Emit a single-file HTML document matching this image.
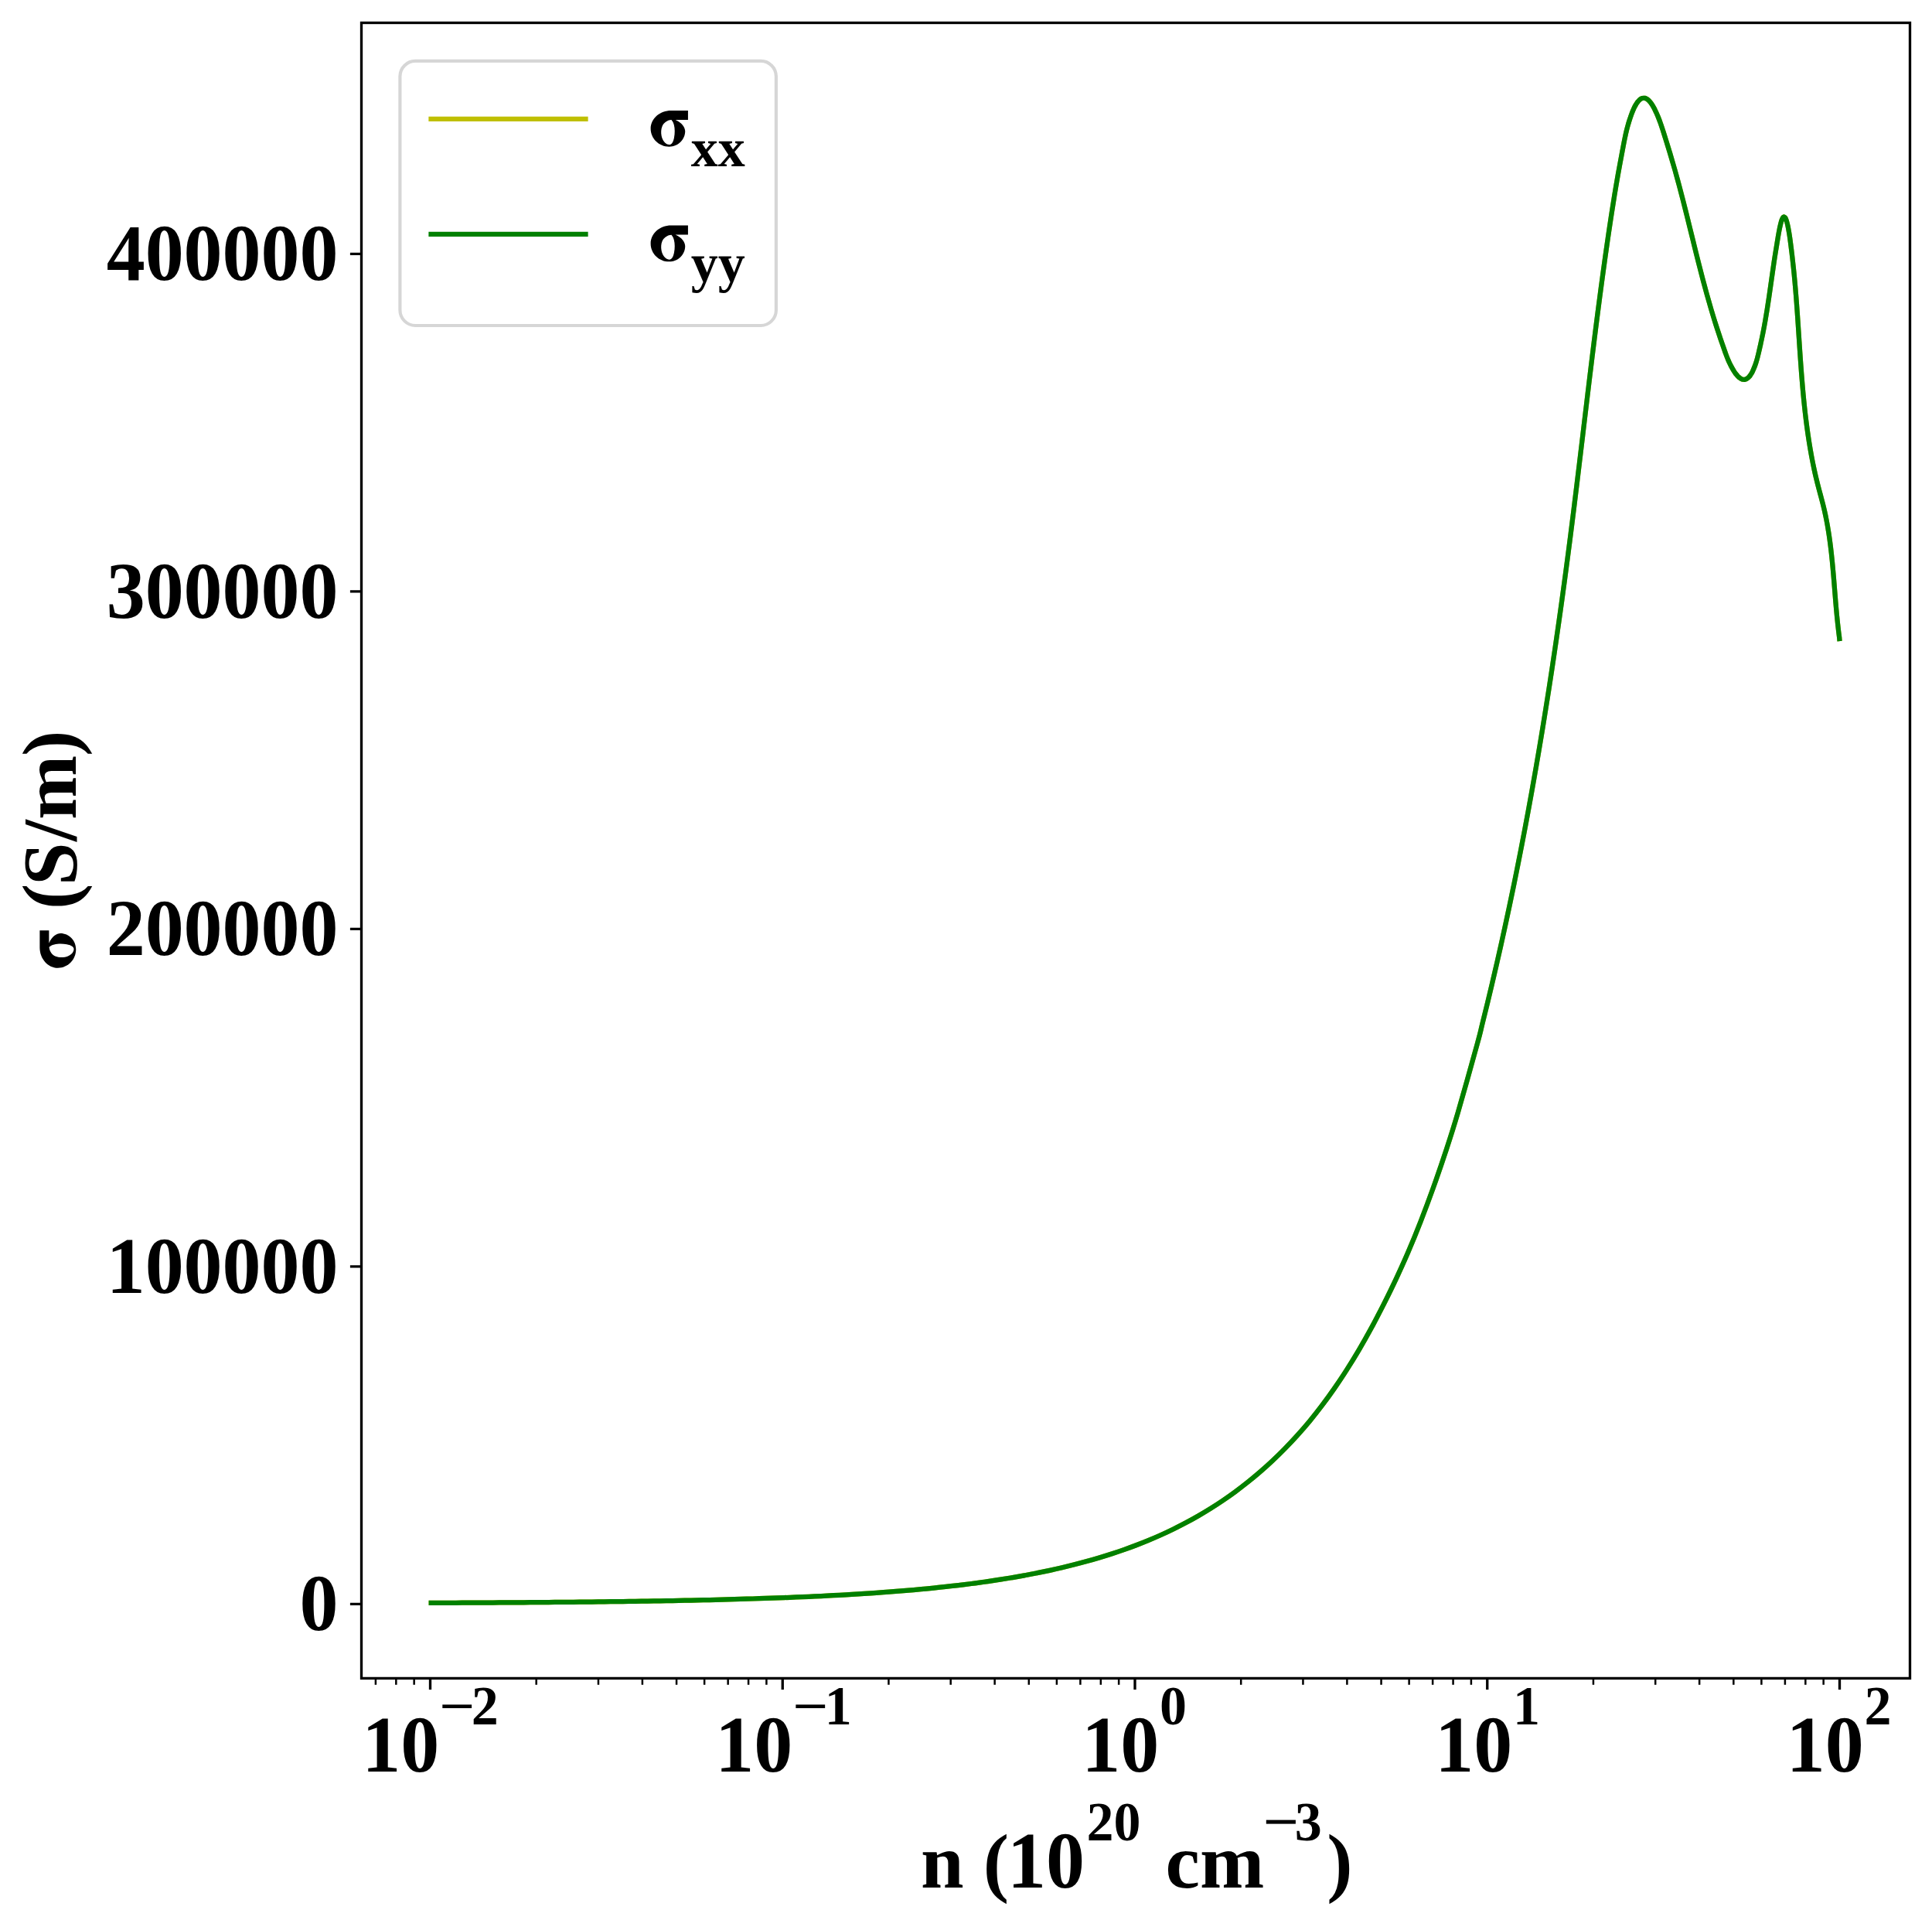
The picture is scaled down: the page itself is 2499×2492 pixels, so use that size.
<!DOCTYPE html>
<html><head><meta charset="utf-8"><title>Conductivity vs carrier concentration</title>
<style>html,body{margin:0;padding:0;background:#fff;width:2499px;height:2492px;overflow:hidden}
text{fill:#000}</style></head>
<body>
<svg width="2499" height="2492" viewBox="0 0 2499 2492" style="position:absolute;left:0;top:0">
<rect x="0" y="0" width="2499" height="2492" fill="#fff"/>
<defs><path id="cv" d="M557.70 2072.91C560.37 2072.90 568.37 2072.86 573.70 2072.84C579.03 2072.82 584.37 2072.80 589.70 2072.77C595.03 2072.75 600.37 2072.73 605.70 2072.70C611.03 2072.67 616.37 2072.65 621.70 2072.62C627.03 2072.59 632.37 2072.56 637.70 2072.53C643.03 2072.50 648.37 2072.47 653.70 2072.44C659.03 2072.40 664.37 2072.37 669.70 2072.33C675.03 2072.30 680.37 2072.26 685.70 2072.22C691.03 2072.18 696.37 2072.14 701.70 2072.10C707.03 2072.06 712.37 2072.02 717.70 2071.97C723.03 2071.92 728.37 2071.88 733.70 2071.83C739.03 2071.78 744.37 2071.73 749.70 2071.67C755.03 2071.62 760.37 2071.56 765.70 2071.51C771.03 2071.45 776.37 2071.39 781.70 2071.33C787.03 2071.26 792.37 2071.20 797.70 2071.13C803.03 2071.06 808.37 2070.99 813.70 2070.92C819.03 2070.84 824.37 2070.77 829.70 2070.68C835.03 2070.60 840.37 2070.52 845.70 2070.43C851.03 2070.35 856.37 2070.26 861.70 2070.16C867.03 2070.07 872.37 2069.97 877.70 2069.87C883.03 2069.77 888.37 2069.66 893.70 2069.55C899.03 2069.44 904.37 2069.32 909.70 2069.20C915.03 2069.08 920.37 2068.96 925.70 2068.83C931.03 2068.70 936.37 2068.56 941.70 2068.42C947.03 2068.28 952.37 2068.13 957.70 2067.98C963.03 2067.83 968.37 2067.67 973.70 2067.50C979.03 2067.34 984.37 2067.17 989.70 2066.99C995.03 2066.81 1000.37 2066.62 1005.70 2066.42C1011.03 2066.23 1016.37 2066.03 1021.70 2065.82C1027.03 2065.60 1032.37 2065.38 1037.70 2065.15C1043.03 2064.93 1048.37 2064.69 1053.70 2064.44C1059.03 2064.19 1064.37 2063.93 1069.70 2063.66C1075.03 2063.39 1080.37 2063.11 1085.70 2062.82C1091.03 2062.53 1096.37 2062.23 1101.70 2061.91C1107.03 2061.59 1112.37 2061.26 1117.70 2060.92C1123.03 2060.58 1128.37 2060.22 1133.70 2059.85C1139.03 2059.47 1144.37 2059.09 1149.70 2058.68C1155.03 2058.28 1160.37 2057.86 1165.70 2057.42C1171.03 2056.99 1176.37 2056.53 1181.70 2056.06C1187.03 2055.58 1192.37 2055.09 1197.70 2054.57C1203.03 2054.06 1208.37 2053.53 1213.70 2052.97C1219.03 2052.41 1224.37 2051.83 1229.70 2051.23C1235.03 2050.62 1240.37 2049.99 1245.70 2049.34C1251.03 2048.68 1256.37 2048.00 1261.70 2047.29C1267.03 2046.58 1272.37 2045.84 1277.70 2045.07C1283.03 2044.30 1288.37 2043.50 1293.70 2042.66C1299.03 2041.83 1304.37 2040.96 1309.70 2040.05C1315.03 2039.15 1320.37 2038.21 1325.70 2037.22C1331.03 2036.24 1336.37 2035.22 1341.70 2034.16C1347.03 2033.09 1352.37 2031.99 1357.70 2030.83C1363.03 2029.68 1368.37 2028.48 1373.70 2027.22C1379.03 2025.97 1384.37 2024.67 1389.70 2023.32C1395.03 2021.96 1400.37 2020.55 1405.70 2019.08C1411.03 2017.60 1416.37 2016.08 1421.70 2014.48C1427.03 2012.88 1432.37 2011.23 1437.70 2009.50C1443.03 2007.77 1448.37 2005.97 1453.70 2004.10C1459.03 2002.22 1464.37 2000.27 1469.70 1998.24C1475.03 1996.21 1480.37 1994.10 1485.70 1991.89C1491.03 1989.69 1496.37 1987.41 1501.70 1985.01C1507.03 1982.61 1512.37 1980.11 1517.70 1977.50C1523.03 1974.88 1528.37 1972.17 1533.70 1969.34C1539.03 1966.50 1544.37 1963.57 1549.70 1960.49C1555.03 1957.42 1560.37 1954.23 1565.70 1950.89C1571.03 1947.56 1576.37 1944.10 1581.70 1940.48C1587.03 1936.86 1592.37 1933.11 1597.70 1929.18C1603.03 1925.26 1608.37 1921.19 1613.70 1916.93C1619.03 1912.67 1624.37 1908.25 1629.70 1903.64C1635.03 1899.02 1640.37 1894.23 1645.70 1889.22C1651.03 1884.20 1656.37 1879.01 1661.70 1873.57C1667.03 1868.14 1672.37 1862.50 1677.70 1856.60C1683.03 1850.70 1688.37 1844.63 1693.70 1838.19C1699.03 1831.75 1704.37 1825.01 1709.70 1817.96C1715.03 1810.91 1720.37 1803.56 1725.70 1795.88C1731.03 1788.20 1736.37 1780.23 1741.70 1771.89C1747.03 1763.55 1752.37 1754.90 1757.70 1745.84C1763.03 1736.78 1768.37 1727.35 1773.70 1717.53C1779.03 1707.71 1784.37 1697.46 1789.70 1686.90C1795.03 1676.33 1800.37 1665.51 1805.70 1654.12C1811.03 1642.73 1816.37 1631.04 1821.70 1618.57C1827.03 1606.09 1832.37 1592.94 1837.70 1579.27C1843.03 1565.60 1848.37 1551.41 1853.70 1536.54C1859.03 1521.66 1864.37 1506.27 1869.70 1490.03C1875.03 1473.79 1878.85 1462.42 1885.70 1439.09C1892.55 1415.75 1905.56 1369.01 1910.79 1350.00C1916.03 1330.99 1915.05 1333.33 1917.13 1325.00C1919.22 1316.67 1921.27 1308.33 1923.30 1300.00C1925.33 1291.67 1927.33 1283.33 1929.30 1275.00C1931.28 1266.67 1933.22 1258.33 1935.14 1250.00C1937.06 1241.67 1938.96 1233.33 1940.83 1225.00C1942.69 1216.67 1944.54 1208.33 1946.35 1200.00C1948.17 1191.67 1949.96 1183.33 1951.73 1175.00C1953.50 1166.67 1955.24 1158.33 1956.96 1150.00C1958.68 1141.67 1960.38 1133.33 1962.05 1125.00C1963.72 1116.67 1965.37 1108.33 1967.00 1100.00C1968.63 1091.67 1970.23 1083.33 1971.82 1075.00C1973.40 1066.67 1974.96 1058.33 1976.50 1050.00C1978.04 1041.67 1979.56 1033.33 1981.05 1025.00C1982.55 1016.67 1984.03 1008.33 1985.49 1000.00C1986.94 991.67 1988.38 983.33 1989.80 975.00C1991.22 966.67 1992.62 958.33 1994.00 950.00C1995.38 941.67 1996.74 933.33 1998.08 925.00C1999.43 916.67 2000.75 908.33 2002.06 900.00C2003.37 891.67 2004.66 883.33 2005.93 875.00C2007.21 866.67 2008.46 858.33 2009.70 850.00C2010.95 841.67 2012.17 833.33 2013.38 825.00C2014.59 816.67 2015.78 808.33 2016.96 800.00C2018.14 791.67 2019.31 783.33 2020.46 775.00C2021.61 766.67 2022.74 758.33 2023.87 750.00C2024.99 741.67 2026.10 733.33 2027.19 725.00C2028.29 716.67 2029.37 708.33 2030.45 700.00C2031.52 691.67 2032.58 683.33 2033.62 675.00C2034.67 666.67 2035.71 658.33 2036.74 650.00C2037.76 641.67 2038.78 633.33 2039.79 625.00C2040.81 616.67 2041.81 608.33 2042.81 600.00C2043.82 591.67 2044.81 583.33 2045.81 575.00C2046.81 566.67 2047.80 558.33 2048.79 550.00C2049.79 541.67 2050.78 533.33 2051.78 525.00C2052.77 516.67 2053.77 508.33 2054.78 500.00C2055.78 491.67 2056.79 483.33 2057.81 475.00C2058.82 466.67 2059.85 458.33 2060.88 450.00C2061.91 441.67 2062.95 433.33 2064.01 425.00C2065.06 416.67 2066.13 408.33 2067.21 400.00C2068.29 391.67 2069.38 383.33 2070.49 375.00C2071.60 366.67 2072.72 358.33 2073.87 350.00C2075.01 341.67 2076.17 333.33 2077.36 325.00C2078.54 316.67 2079.74 308.33 2080.97 300.00C2082.20 291.67 2083.45 283.33 2084.74 275.00C2086.03 266.67 2087.35 258.33 2088.72 250.00C2090.09 241.67 2091.44 233.67 2092.98 225.00C2094.52 216.33 2097.01 203.17 2097.97 198.00C2098.93 192.83 2098.48 195.33 2098.73 194.00C2098.98 192.67 2099.23 191.33 2099.48 190.00C2099.73 188.67 2099.98 187.33 2100.24 186.00C2100.50 184.67 2100.76 183.33 2101.02 182.00C2101.29 180.67 2101.56 179.33 2101.83 178.00C2102.11 176.67 2102.40 175.33 2102.69 174.00C2102.99 172.67 2103.29 171.33 2103.61 170.00C2103.93 168.67 2104.26 167.33 2104.61 166.00C2104.95 164.67 2105.31 163.33 2105.69 162.00C2106.06 160.67 2106.46 159.33 2106.86 158.00C2107.27 156.67 2107.70 155.33 2108.14 154.00C2108.58 152.67 2109.03 151.35 2109.50 150.00C2109.98 148.65 2110.50 147.22 2111.00 145.93C2111.50 144.64 2112.00 143.42 2112.50 142.26C2113.00 141.10 2113.50 140.01 2114.00 138.99C2114.50 137.96 2115.00 137.01 2115.50 136.11C2116.00 135.22 2116.50 134.40 2117.00 133.63C2117.50 132.87 2118.00 132.18 2118.50 131.54C2119.00 130.91 2119.50 130.34 2120.00 129.84C2120.50 129.33 2121.00 128.89 2121.50 128.51C2122.00 128.13 2122.50 127.82 2123.00 127.56C2123.50 127.31 2124.00 127.11 2124.50 126.98C2125.00 126.85 2125.50 126.78 2126.00 126.76C2126.50 126.75 2127.00 126.80 2127.50 126.90C2128.00 127.01 2128.50 127.17 2129.00 127.39C2129.50 127.61 2130.00 127.89 2130.50 128.22C2131.00 128.55 2131.50 128.94 2132.00 129.38C2132.50 129.82 2133.00 130.32 2133.50 130.86C2134.00 131.41 2134.50 132.01 2135.00 132.66C2135.50 133.31 2136.00 134.01 2136.50 134.76C2137.00 135.51 2137.50 136.31 2138.00 137.16C2138.50 138.01 2139.00 138.90 2139.50 139.84C2140.00 140.78 2140.50 141.76 2141.00 142.79C2141.50 143.81 2141.97 144.79 2142.50 145.99C2143.04 147.20 2143.68 148.67 2144.23 150.00C2144.79 151.33 2145.32 152.67 2145.84 154.00C2146.35 155.33 2146.85 156.67 2147.33 158.00C2147.81 159.33 2148.28 160.67 2148.73 162.00C2149.19 163.33 2149.63 164.67 2150.07 166.00C2150.51 167.33 2150.94 168.67 2151.37 170.00C2151.79 171.33 2152.21 172.67 2152.63 174.00C2153.05 175.33 2153.47 176.67 2153.88 178.00C2154.30 179.33 2154.71 180.67 2155.12 182.00C2155.54 183.33 2155.95 184.67 2156.36 186.00C2156.77 187.33 2157.19 188.67 2157.60 190.00C2158.01 191.33 2158.42 192.67 2158.83 194.00C2159.24 195.33 2158.77 193.67 2160.05 198.00C2161.33 202.33 2164.50 213.00 2166.49 220.00C2168.47 227.00 2170.19 233.33 2171.97 240.00C2173.75 246.67 2175.47 253.33 2177.18 260.00C2178.89 266.67 2180.55 273.33 2182.22 280.00C2183.88 286.67 2185.51 293.33 2187.15 300.00C2188.79 306.67 2190.42 313.33 2192.07 320.00C2193.73 326.67 2195.38 333.33 2197.07 340.00C2198.76 346.67 2200.46 353.33 2202.22 360.00C2203.98 366.67 2205.76 373.33 2207.61 380.00C2209.46 386.67 2211.36 393.33 2213.33 400.00C2215.30 406.67 2217.33 413.33 2219.46 420.00C2221.58 426.67 2224.68 435.83 2226.08 440.00C2227.47 444.17 2227.30 443.50 2227.82 445.00C2228.34 446.50 2228.76 447.67 2229.22 449.00C2229.69 450.33 2230.14 451.67 2230.61 453.00C2231.08 454.33 2231.54 455.67 2232.03 457.00C2232.51 458.33 2233.00 459.67 2233.51 461.00C2234.03 462.33 2234.56 463.67 2235.12 465.00C2235.69 466.33 2236.27 467.67 2236.90 469.00C2237.53 470.33 2238.13 471.56 2238.88 473.00C2239.64 474.44 2240.77 476.48 2241.45 477.66C2242.12 478.85 2242.45 479.33 2242.95 480.11C2243.45 480.89 2243.95 481.64 2244.45 482.34C2244.95 483.04 2245.45 483.71 2245.95 484.33C2246.45 484.96 2246.95 485.54 2247.45 486.08C2247.95 486.62 2248.45 487.12 2248.95 487.58C2249.45 488.03 2249.95 488.45 2250.45 488.81C2250.95 489.17 2251.45 489.49 2251.95 489.76C2252.45 490.03 2252.95 490.25 2253.45 490.41C2253.95 490.58 2254.45 490.70 2254.95 490.76C2255.45 490.82 2255.95 490.83 2256.45 490.78C2256.95 490.73 2257.45 490.63 2257.95 490.46C2258.45 490.29 2258.95 490.06 2259.45 489.77C2259.95 489.48 2260.45 489.13 2260.95 488.71C2261.45 488.28 2261.95 487.80 2262.45 487.24C2262.95 486.68 2263.45 486.05 2263.95 485.35C2264.45 484.64 2264.95 483.87 2265.45 483.01C2265.95 482.16 2266.19 481.88 2266.95 480.21C2267.70 478.54 2269.25 474.87 2269.98 473.00C2270.72 471.13 2270.93 470.33 2271.36 469.00C2271.78 467.67 2272.17 466.33 2272.55 465.00C2272.93 463.67 2273.27 462.33 2273.61 461.00C2273.95 459.67 2274.27 458.33 2274.59 457.00C2274.91 455.67 2275.21 454.33 2275.52 453.00C2275.83 451.67 2276.13 450.33 2276.43 449.00C2276.73 447.67 2276.66 448.17 2277.33 445.00C2278.01 441.83 2279.49 435.00 2280.48 430.00C2281.47 425.00 2282.38 420.00 2283.26 415.00C2284.14 410.00 2284.96 405.00 2285.76 400.00C2286.55 395.00 2287.30 390.00 2288.05 385.00C2288.79 380.00 2289.50 375.00 2290.21 370.00C2290.93 365.00 2291.62 360.00 2292.34 355.00C2293.05 350.00 2293.94 343.83 2294.50 340.00C2295.07 336.17 2295.40 334.00 2295.71 332.00C2296.02 330.00 2296.13 329.33 2296.34 328.00C2296.56 326.67 2296.78 325.33 2296.99 324.00C2297.21 322.67 2297.43 321.33 2297.65 320.00C2297.87 318.67 2298.09 317.33 2298.31 316.00C2298.52 314.67 2298.74 313.33 2298.96 312.00C2299.18 310.67 2299.39 309.33 2299.61 308.00C2299.83 306.67 2300.05 305.33 2300.28 304.00C2300.51 302.67 2300.71 301.52 2300.99 300.00C2301.28 298.48 2301.66 296.47 2301.99 294.87C2302.32 293.27 2302.66 291.77 2302.99 290.40C2303.32 289.04 2303.66 287.79 2303.99 286.68C2304.32 285.58 2304.66 284.61 2304.99 283.79C2305.32 282.97 2305.66 282.29 2305.99 281.78C2306.32 281.26 2306.66 280.89 2306.99 280.69C2307.32 280.49 2307.66 280.45 2307.99 280.57C2308.32 280.69 2308.66 280.98 2308.99 281.43C2309.32 281.88 2309.66 282.50 2309.99 283.27C2310.32 284.05 2310.66 285.00 2310.99 286.09C2311.32 287.19 2311.66 288.46 2311.99 289.87C2312.32 291.28 2312.66 292.87 2312.99 294.56C2313.32 296.25 2313.70 298.43 2313.97 300.00C2314.24 301.57 2314.41 302.67 2314.61 304.00C2314.81 305.33 2315.01 306.67 2315.20 308.00C2315.38 309.33 2315.56 310.67 2315.74 312.00C2315.92 313.33 2316.09 314.67 2316.26 316.00C2316.44 317.33 2316.60 318.67 2316.77 320.00C2316.94 321.33 2317.10 322.67 2317.27 324.00C2317.43 325.33 2317.59 326.67 2317.75 328.00C2317.91 329.33 2317.87 328.83 2318.23 332.00C2318.58 335.17 2319.46 343.00 2319.89 347.00C2320.32 351.00 2320.50 353.00 2320.79 356.00C2321.09 359.00 2321.36 362.00 2321.64 365.00C2321.91 368.00 2322.17 371.00 2322.42 374.00C2322.67 377.00 2322.92 380.00 2323.16 383.00C2323.40 386.00 2323.63 389.00 2323.85 392.00C2324.08 395.00 2324.30 398.00 2324.51 401.00C2324.73 404.00 2324.94 407.00 2325.15 410.00C2325.35 413.00 2325.56 416.00 2325.76 419.00C2325.96 422.00 2326.16 425.00 2326.36 428.00C2326.56 431.00 2326.76 434.00 2326.96 437.00C2327.16 440.00 2327.35 443.00 2327.55 446.00C2327.75 449.00 2327.96 452.00 2328.16 455.00C2328.36 458.00 2328.57 461.00 2328.78 464.00C2328.99 467.00 2329.21 470.00 2329.43 473.00C2329.65 476.00 2329.87 479.00 2330.10 482.00C2330.33 485.00 2330.57 488.00 2330.82 491.00C2331.06 494.00 2331.31 497.00 2331.57 500.00C2331.83 503.00 2332.10 506.00 2332.38 509.00C2332.66 512.00 2332.95 515.00 2333.25 518.00C2333.55 521.00 2333.86 524.00 2334.18 527.00C2334.51 530.00 2334.84 533.00 2335.19 536.00C2335.54 539.00 2335.90 542.00 2336.28 545.00C2336.66 548.00 2337.05 551.00 2337.46 554.00C2337.86 557.00 2338.29 560.00 2338.73 563.00C2339.17 566.00 2339.62 569.00 2340.10 572.00C2340.57 575.00 2341.07 578.00 2341.58 581.00C2342.09 584.00 2342.63 587.00 2343.18 590.00C2343.74 593.00 2344.32 596.00 2344.92 599.00C2345.52 602.00 2346.15 605.00 2346.80 608.00C2347.45 611.00 2348.13 614.00 2348.84 617.00C2349.55 620.00 2350.29 623.00 2351.05 626.00C2351.82 629.00 2352.62 632.00 2353.42 635.00C2354.22 638.00 2355.04 641.00 2355.83 644.00C2356.62 647.00 2357.42 650.00 2358.17 653.00C2358.91 656.00 2359.63 659.00 2360.30 662.00C2360.97 665.00 2361.60 668.00 2362.19 671.00C2362.79 674.00 2363.34 677.00 2363.87 680.00C2364.39 683.00 2364.88 686.00 2365.35 689.00C2365.82 692.00 2366.26 695.00 2366.67 698.00C2367.09 701.00 2367.47 704.00 2367.84 707.00C2368.21 710.00 2368.56 713.00 2368.89 716.00C2369.22 719.00 2369.53 722.00 2369.83 725.00C2370.13 728.00 2370.42 731.00 2370.69 734.00C2370.97 737.00 2371.23 740.00 2371.49 743.00C2371.74 746.00 2371.99 749.00 2372.24 752.00C2372.48 755.00 2372.72 758.00 2372.96 761.00C2373.21 764.00 2373.44 767.00 2373.69 770.00C2373.93 773.00 2374.18 776.00 2374.43 779.00C2374.68 782.00 2374.94 785.00 2375.21 788.00C2375.48 791.00 2375.76 794.00 2376.05 797.00C2376.34 800.00 2376.65 803.00 2376.97 806.00C2377.29 809.00 2377.63 812.00 2377.99 815.00C2378.35 818.00 2378.91 822.17 2379.13 824.00C2379.35 825.83 2379.27 825.67 2379.30 826.00"/></defs>
<use href="#cv" fill="none" stroke="#bfbf00" stroke-width="6.25" stroke-linecap="square" stroke-linejoin="round"/>
<use href="#cv" fill="none" stroke="#008000" stroke-width="6.25" stroke-linecap="square" stroke-linejoin="round"/>
<path d="M556.50 2170.4 v14.6 M1012.25 2170.4 v14.6 M1468.00 2170.4 v14.6 M1923.75 2170.4 v14.6 M2379.50 2170.4 v14.6" stroke="#000" stroke-width="3.33" fill="none"/>
<path d="M485.90 2170.4 v8.3 M512.33 2170.4 v8.3 M535.65 2170.4 v8.3 M693.69 2170.4 v8.3 M773.95 2170.4 v8.3 M830.89 2170.4 v8.3 M875.06 2170.4 v8.3 M911.14 2170.4 v8.3 M941.65 2170.4 v8.3 M968.08 2170.4 v8.3 M991.40 2170.4 v8.3 M1149.44 2170.4 v8.3 M1229.70 2170.4 v8.3 M1286.64 2170.4 v8.3 M1330.81 2170.4 v8.3 M1366.89 2170.4 v8.3 M1397.40 2170.4 v8.3 M1423.83 2170.4 v8.3 M1447.15 2170.4 v8.3 M1605.19 2170.4 v8.3 M1685.45 2170.4 v8.3 M1742.39 2170.4 v8.3 M1786.56 2170.4 v8.3 M1822.64 2170.4 v8.3 M1853.15 2170.4 v8.3 M1879.58 2170.4 v8.3 M1902.90 2170.4 v8.3 M2060.94 2170.4 v8.3 M2141.20 2170.4 v8.3 M2198.14 2170.4 v8.3 M2242.31 2170.4 v8.3 M2278.39 2170.4 v8.3 M2308.90 2170.4 v8.3 M2335.33 2170.4 v8.3 M2358.65 2170.4 v8.3" stroke="#000" stroke-width="2.5" fill="none"/>
<path d="M467.5 2074.40 h-14.6 M467.5 1637.90 h-14.6 M467.5 1201.40 h-14.6 M467.5 764.90 h-14.6 M467.5 328.40 h-14.6" stroke="#000" stroke-width="3.33" fill="none"/>
<rect x="467.5" y="29.5" width="2003.0" height="2140.9" fill="none" stroke="#000" stroke-width="3.33"/>
<rect x="517.4" y="78.8" width="486.5" height="342.2" rx="20" ry="20" fill="#fff" fill-opacity="0.8" stroke="#d6d6d6" stroke-width="4.17"/>
<path d="M557.5 153.9 h200" stroke="#bfbf00" stroke-width="6.25" stroke-linecap="square"/>
<path d="M557.5 302.9 h200" stroke="#008000" stroke-width="6.25" stroke-linecap="square"/>
<defs><path id="sg" d="M 52.43 -46.10 L 30.64 -46.10 C 16.00 -46.10 4.12 -35.60 4.12 -22.67 C 4.12 -9.73 14.84 0.76 28.10 0.76 C 39.50 0.76 48.73 -8.25 48.73 -19.40 C 48.73 -24.12 44.81 -30.29 36.09 -34.11 L 52.43 -34.11 Z M 31.00 -33.93 C 25.19 -33.56 20.83 -29.93 19.02 -25.57 C 17.56 -21.94 17.38 -17.94 18.11 -13.59 C 19.02 -8.14 23.01 -2.32 28.10 -1.96 C 31.73 -1.78 33.55 -6.32 34.45 -11.04 C 35.54 -16.13 35.54 -22.67 34.27 -27.39 C 33.55 -30.29 32.46 -32.11 31.00 -33.93 Z" fill="#000" fill-rule="evenodd"/></defs>
<text transform="translate(437.6,2108.2) scale(1,1.03)" font-size="100" text-anchor="end" font-family="Liberation Serif" font-weight="bold">0</text>
<text transform="translate(437.6,1671.7) scale(1,1.03)" font-size="100" text-anchor="end" font-family="Liberation Serif" font-weight="bold">100000</text>
<text transform="translate(437.6,1235.2) scale(1,1.03)" font-size="100" text-anchor="end" font-family="Liberation Serif" font-weight="bold">200000</text>
<text transform="translate(437.6,798.7) scale(1,1.03)" font-size="100" text-anchor="end" font-family="Liberation Serif" font-weight="bold">300000</text>
<text transform="translate(437.6,362.2) scale(1,1.03)" font-size="100" text-anchor="end" font-family="Liberation Serif" font-weight="bold">400000</text>
<text transform="translate(468.2,2291) scale(1,1.03)" font-size="100" text-anchor="start" font-family="Liberation Serif" font-weight="bold">10</text>
<rect x="572.30" y="2204.40" width="37.80" height="4.6" fill="#000"/>
<text transform="translate(609.7,2230) scale(1,1.03)" font-size="70" text-anchor="start" font-family="Liberation Serif" font-weight="bold">2</text>
<text transform="translate(925.2,2291) scale(1,1.03)" font-size="100" text-anchor="start" font-family="Liberation Serif" font-weight="bold">10</text>
<rect x="1029.35" y="2204.40" width="37.80" height="4.6" fill="#000"/>
<text transform="translate(1066.8,2230) scale(1,1.03)" font-size="70" text-anchor="start" font-family="Liberation Serif" font-weight="bold">1</text>
<text transform="translate(1399.2,2291) scale(1,1.03)" font-size="100" text-anchor="start" font-family="Liberation Serif" font-weight="bold">10</text>
<text transform="translate(1500.1,2230) scale(1,1.03)" font-size="70" text-anchor="start" font-family="Liberation Serif" font-weight="bold">0</text>
<text transform="translate(1856.2,2291) scale(1,1.03)" font-size="100" text-anchor="start" font-family="Liberation Serif" font-weight="bold">10</text>
<text transform="translate(1957.1,2230) scale(1,1.03)" font-size="70" text-anchor="start" font-family="Liberation Serif" font-weight="bold">1</text>
<text transform="translate(2310.7,2291) scale(1,1.03)" font-size="100" text-anchor="start" font-family="Liberation Serif" font-weight="bold">10</text>
<text transform="translate(2411.6,2230) scale(1,1.03)" font-size="70" text-anchor="start" font-family="Liberation Serif" font-weight="bold">2</text>
<text x="1191.1" y="2440.7" font-size="100" text-anchor="start" font-family="Liberation Serif" font-weight="bold">n (</text>
<text transform="translate(1303.0,2440.7) scale(1,1.03)" font-size="100" text-anchor="start" font-family="Liberation Serif" font-weight="bold">10</text>
<text transform="translate(1405.6,2379.7) scale(1,1.03)" font-size="70" text-anchor="start" font-family="Liberation Serif" font-weight="bold">20</text>
<text x="1507.5" y="2440.7" font-size="100" text-anchor="start" font-family="Liberation Serif" font-weight="bold">cm</text>
<rect x="1637.80" y="2353.60" width="38.10" height="5.0" fill="#000"/>
<text transform="translate(1674.7,2379.7) scale(1,1.03)" font-size="70" text-anchor="start" font-family="Liberation Serif" font-weight="bold">3</text>
<text x="1716.2" y="2440.7" font-size="100" text-anchor="start" font-family="Liberation Serif" font-weight="bold">)</text>
<g transform="translate(97.5,1255.8) rotate(-90)"><use href="#sg"/><text x="79.9 110.7 167.7 195.9 277.9" y="0" font-size="100" font-family="Liberation Serif" font-weight="bold">(S/m)</text></g>
<use href="#sg" transform="translate(837.5,189)"/>
<text x="893.8" y="215" font-size="70" text-anchor="start" font-family="Liberation Serif" font-weight="bold">xx</text>
<use href="#sg" transform="translate(837.5,337.6)"/>
<text x="893.8" y="363.6" font-size="70" text-anchor="start" font-family="Liberation Serif" font-weight="bold">yy</text>
</svg>
</body></html>
